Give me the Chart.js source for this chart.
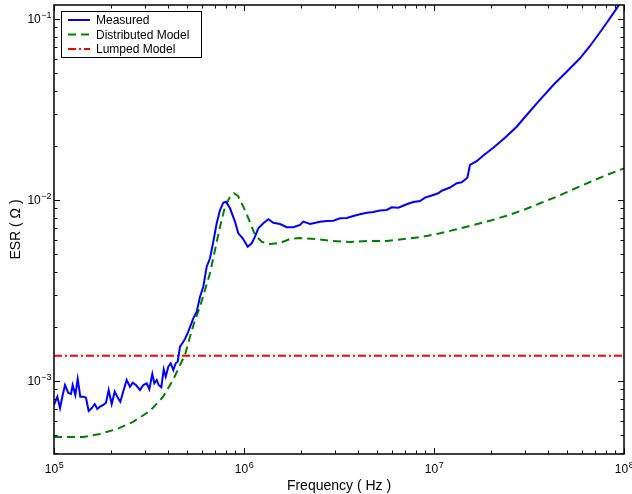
<!DOCTYPE html>
<html>
<head>
<meta charset="utf-8">
<script src="https://cdn.jsdelivr.net/npm/chart.js@4/dist/chart.umd.min.js"></script>
<style>
  body { margin: 0; background: #fff; }
  #wrap { width: 632px; height: 494px; }
</style>
</head>
<body>
<div id="wrap"><canvas id="esr-chart" width="632" height="494"></canvas></div>
<script>
// measured ESR
const freqMeasured = [
  1.00e5, 1.041e5, 1.076e5, 1.111e5, 1.143e5, 1.189e5, 1.229e5, 1.254e5, 1.295e5, 1.333e5,
  1.375e5, 1.427e5, 1.474e5, 1.522e5, 1.580e5, 1.638e5, 1.690e5, 1.746e5, 1.818e5, 1.878e5,
  1.940e5, 2.012e5, 2.087e5, 2.154e5, 2.234e5, 2.327e5, 2.413e5, 2.512e5, 2.595e5, 2.701e5,
  2.836e5, 2.951e5, 3.075e5, 3.174e5, 3.292e5, 3.373e5, 3.472e5, 3.557e5, 3.671e5, 3.780e5,
  3.873e5, 3.996e5, 4.114e5, 4.246e5, 4.371e5, 4.479e5, 4.605e5, 4.735e5, 4.892e5, 5.091e5,
  5.409e5, 5.637e5, 5.867e5, 6.106e5, 6.363e5, 6.622e5, 6.893e5, 7.183e5, 7.476e5, 7.781e5,
  8.040e5, 8.439e5, 8.965e5, 9.333e5, 9.845e5, 1.046e6, 1.098e6, 1.143e6, 1.189e6, 1.264e6,
  1.343e6, 1.427e6, 1.547e6, 1.678e6, 1.818e6, 1.971e6, 2.051e6, 2.225e6, 2.512e6, 2.724e6,
  2.951e6, 3.200e6, 3.472e6, 3.761e6, 4.078e6, 4.424e6, 4.792e6, 5.197e6, 5.637e6, 5.989e6,
  6.488e6, 7.183e6, 7.781e6, 8.439e6, 8.965e6, 9.915e6, 1.053e7, 1.098e7, 1.214e7, 1.317e7,
  1.399e7, 1.498e7, 1.547e7, 1.678e7, 1.818e7, 2.051e7, 2.364e7, 2.724e7, 3.075e7, 3.540e7,
  4.246e7, 4.994e7, 5.867e7, 6.622e7, 7.629e7, 8.783e7, 9.526e7, 1.00e8
];
const esrMeasured = [
  7.37e-4, 8.19e-4, 7.09e-4, 8.37e-4, 9.50e-4, 8.58e-4, 8.48e-4, 9.50e-4, 8.37e-4, 1.026e-3,
  8.19e-4, 8.19e-4, 8.08e-4, 6.83e-4, 7.09e-4, 7.46e-4, 7.00e-4, 7.21e-4, 7.37e-4, 7.59e-4,
  8.92e-4, 7.46e-4, 8.73e-4, 8.19e-4, 7.68e-4, 8.92e-4, 1.013e-3, 9.30e-4, 9.79e-4, 9.50e-4,
  8.92e-4, 9.50e-4, 9.71e-4, 9.00e-4, 1.093e-3, 9.71e-4, 1.013e-3, 9.50e-4, 9.23e-4, 1.160e-3,
  1.056e-3, 1.199e-3, 1.253e-3, 1.150e-3, 1.253e-3, 1.278e-3, 1.547e-3, 1.616e-3, 1.706e-3, 1.873e-3,
  2.220e-3, 2.415e-3, 2.922e-3, 3.319e-3, 4.280e-3, 4.764e-3, 5.884e-3, 7.435e-3, 8.80e-3, 9.66e-3,
  9.79e-3, 9.00e-3, 7.59e-3, 6.546e-3, 6.143e-3, 5.521e-3, 5.765e-3, 6.270e-3, 6.978e-3, 7.435e-3,
  7.823e-3, 7.49e-3, 7.368e-3, 7.07e-3, 7.07e-3, 7.275e-3, 7.59e-3, 7.368e-3, 7.59e-3, 7.656e-3,
  7.68e-3, 7.92e-3, 7.955e-3, 8.16e-3, 8.34e-3, 8.51e-3, 8.58e-3, 8.75e-3, 8.81e-3, 9.11e-3,
  9.07e-3, 9.47e-3, 9.75e-3, 9.87e-3, 1.030e-2, 1.066e-2, 1.089e-2, 1.125e-2, 1.172e-2, 1.237e-2,
  1.253e-2, 1.328e-2, 1.561e-2, 1.638e-2, 1.761e-2, 1.945e-2, 2.209e-2, 2.541e-2, 2.949e-2, 3.492e-2,
  4.318e-2, 5.114e-2, 6.066e-2, 7.093e-2, 8.69e-2, 0.1075, 0.1221, 0.1323
];

// distributed model
const freqDistributed = [
  1.00e5, 1.421e5, 1.746e5, 2.146e5, 2.604e5, 3.200e5, 3.747e5, 4.230e5, 4.605e5, 4.892e5,
  5.196e5, 5.523e5, 5.867e5, 6.232e5, 6.622e5, 7.036e5, 7.476e5, 7.943e5, 8.439e5, 8.859e5,
  9.299e5, 9.879e5, 1.053e6, 1.143e6, 1.244e6, 1.370e6, 1.547e6, 1.746e6, 1.971e6, 2.422e6,
  2.941e6, 3.614e6, 4.441e6, 5.637e6, 7.183e6, 8.783e6, 1.076e7, 1.317e7, 1.610e7, 1.971e7,
  2.413e7, 2.951e7, 3.614e7, 4.424e7, 5.409e7, 6.622e7, 8.108e7, 1.00e8
];
const esrDistributed = [
  4.90e-4, 4.90e-4, 5.10e-4, 5.43e-4, 5.94e-4, 6.83e-4, 8.16e-4, 1.013e-3, 1.226e-3, 1.392e-3,
  1.757e-3, 2.173e-3, 2.573e-3, 3.183e-3, 3.936e-3, 5.293e-3, 7.12e-3, 9.18e-3, 1.043e-2, 1.089e-2,
  1.052e-2, 9.27e-3, 7.955e-3, 6.406e-3, 5.861e-3, 5.713e-3, 5.786e-3, 6.088e-3, 6.166e-3, 6.088e-3,
  5.935e-3, 5.861e-3, 5.935e-3, 5.935e-3, 6.11e-3, 6.27e-3, 6.546e-3, 6.89e-3, 7.275e-3, 7.68e-3,
  8.19e-3, 8.80e-3, 9.59e-3, 1.043e-2, 1.146e-2, 1.257e-2, 1.374e-2, 1.496e-2
];

// lumped model
const freqLumped = [1e5, 1e8];
const esrLumped = [1.38e-3, 1.38e-3];

const xMajorTicks = [1e5, 1e6, 1e7, 1e8];
const yMajorTicks = [1e-3, 1e-2, 1e-1];
const xRange = [1e5, 1e8];
const yRange = [3.95e-4, 0.1195];

function toPoints(xs, ys) {
  return xs.map((x, i) => ({ x: x, y: ys[i] }));
}

const seriesInfo = [
  { label: 'Measured', color: '#0000ff', dash: [] },
  { label: 'Distributed Model', color: '#008000', dash: [8, 5] },
  { label: 'Lumped Model', color: '#ff0000', dash: [8, 3, 2, 3] }
];

// MATLAB-like box, inward ticks, 10^n labels, legend
const matlabAxes = {
  id: 'matlabAxes',
  afterDraw(chart) {
    const ctx = chart.ctx;
    const a = chart.chartArea;
    const xs = chart.scales.x, ys = chart.scales.y;
    ctx.save();
    ctx.strokeStyle = '#000';
    ctx.lineWidth = 1;

    // ticks
    const tick = (p, len, vertical) => {
      ctx.beginPath();
      if (vertical) {
        ctx.moveTo(p, a.bottom); ctx.lineTo(p, a.bottom - len);
        ctx.moveTo(p, a.top); ctx.lineTo(p, a.top + len);
      } else {
        ctx.moveTo(a.left, p); ctx.lineTo(a.left + len, p);
        ctx.moveTo(a.right, p); ctx.lineTo(a.right - len, p);
      }
      ctx.stroke();
    };
    for (let e = 5; e <= 8; e++) {
      for (let m = 1; m <= 9; m++) {
        const v = m * Math.pow(10, e);
        if (v > xRange[1] * 1.0001) break;
        const p = Math.round(xs.getPixelForValue(v)) + 0.5;
        tick(p, m === 1 ? 6 : 3.5, true);
      }
    }
    for (let e = -4; e <= -1; e++) {
      for (let m = 1; m <= 9; m++) {
        const v = m * Math.pow(10, e);
        if (v < yRange[0] || v > yRange[1]) continue;
        const p = Math.round(ys.getPixelForValue(v)) + 0.5;
        tick(p, m === 1 ? 6 : 3.5, false);
      }
    }

    // box
    ctx.lineWidth = 1.5;
    ctx.strokeRect(a.left, a.top, a.right - a.left, a.bottom - a.top);

    // tick labels
    ctx.fillStyle = '#000';
    ctx.textBaseline = 'middle';
    ctx.textAlign = 'left';
    const base = '12px "Liberation Sans", Arial, sans-serif';
    const sup = '9px "Liberation Sans", Arial, sans-serif';
    const label = (v) => {
      const ex = Math.round(Math.log10(v));
      return ['10', (ex < 0 ? '\u2212' : '') + Math.abs(ex)];
    };
    xMajorTicks.forEach(v => {
      const [b, s] = label(v);
      ctx.font = base; const wb = ctx.measureText(b).width;
      ctx.font = sup; const ws = ctx.measureText(s).width;
      const x0 = xs.getPixelForValue(v) - (wb + ws) / 2;
      ctx.font = base; ctx.fillText(b, x0, a.bottom + 16);
      ctx.font = sup; ctx.fillText(s, x0 + wb + 0.5, a.bottom + 12);
    });
    yMajorTicks.forEach(v => {
      const [b, s] = label(v);
      ctx.font = base; const wb = ctx.measureText(b).width;
      ctx.font = sup; const ws = ctx.measureText(s).width;
      const y = ys.getPixelForValue(v);
      const x0 = a.left - 3 - ws - wb;
      ctx.font = base; ctx.fillText(b, x0, y + 1);
      ctx.font = sup; ctx.fillText(s, x0 + wb + 0.5, y - 3);
    });

    // axis titles
    ctx.font = '14px "Liberation Sans", Arial, sans-serif';
    ctx.textAlign = 'center';
    ctx.fillText('Frequency ( Hz )', (a.left + a.right) / 2, 486);
    ctx.save();
    ctx.translate(16, (a.top + a.bottom) / 2);
    ctx.rotate(-Math.PI / 2);
    ctx.fillText('ESR ( \u03A9 )', 0, 0);
    ctx.restore();

    // legend
    const lx = 61.5, ly = 11.5, lw = 140, lh = 46;
    ctx.fillStyle = '#fff';
    ctx.fillRect(lx, ly, lw, lh);
    ctx.lineWidth = 1;
    ctx.strokeStyle = '#000';
    ctx.strokeRect(lx, ly, lw, lh);
    ctx.font = '12px "Liberation Sans", Arial, sans-serif';
    ctx.textAlign = 'left';
    seriesInfo.forEach((s, i) => {
      const y = 20 + i * 14.5;
      ctx.strokeStyle = s.color;
      ctx.lineWidth = 2;
      ctx.setLineDash(s.dash);
      ctx.beginPath();
      ctx.moveTo(68, y); ctx.lineTo(90, y);
      ctx.stroke();
      ctx.setLineDash([]);
      ctx.fillStyle = '#000';
      ctx.fillText(s.label, 96, y + 1);
    });
    ctx.restore();
  }
};

const ctx = document.getElementById('esr-chart').getContext('2d');
const seriesData = [
  toPoints(freqMeasured, esrMeasured),
  toPoints(freqDistributed, esrDistributed),
  toPoints(freqLumped, esrLumped)
];

window.esrChart = new Chart(ctx, {
  type: 'line',
  data: {
    datasets: seriesInfo.map((s, i) => ({
      label: s.label,
      data: seriesData[i],
      borderColor: s.color,
      borderWidth: 2,
      borderDash: s.dash,
      pointRadius: 0,
      tension: 0,
      fill: false
    }))
  },
  options: {
    responsive: false,
    animation: false,
    devicePixelRatio: 1,
    layout: { padding: { left: 54, right: 8, top: 5, bottom: 40 } },
    plugins: { legend: { display: false }, tooltip: { enabled: false } },
    scales: {
      x: { type: 'logarithmic', min: xRange[0], max: xRange[1], display: false },
      y: { type: 'logarithmic', min: yRange[0], max: yRange[1], display: false }
    }
  },
  plugins: [matlabAxes]
});
</script>
</body>
</html>
